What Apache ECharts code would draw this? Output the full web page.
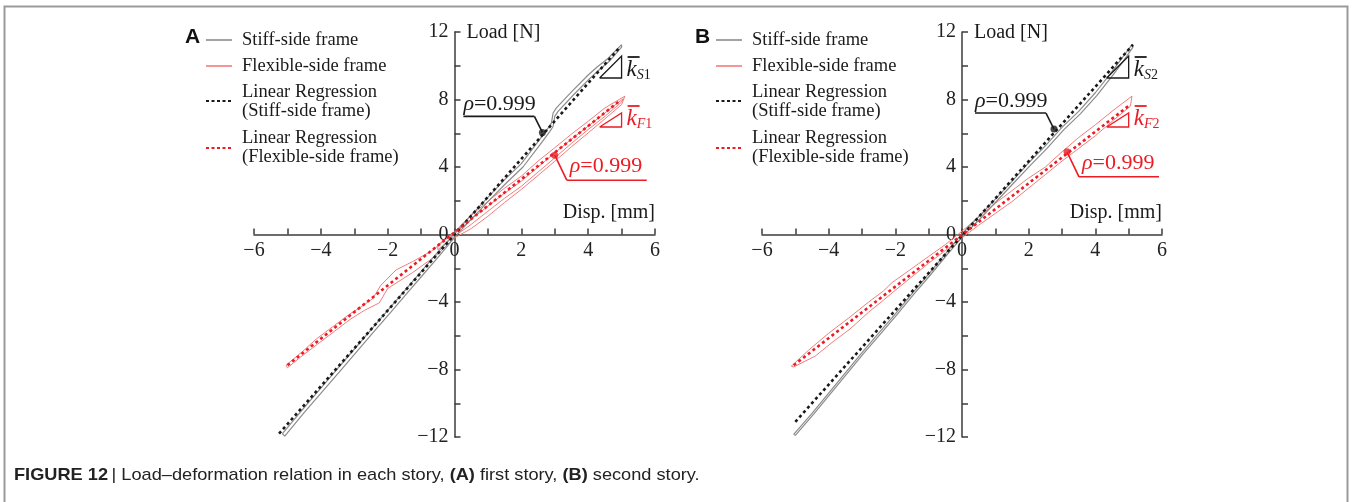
<!DOCTYPE html>
<html><head><meta charset="utf-8">
<script src="https://cdn.jsdelivr.net/npm/echarts@6/dist/echarts.min.js"></script>
<style>html,body{margin:0;padding:0;background:#fff}#c{width:1352px;height:502px}</style>
</head><body><div id="c"></div>
<script>
// ---------- DATA ----------
const xTicks = [-6, -4, -2, 0, 2, 4, 6];
const yTicks = [-12, -8, -4, 0, 4, 8, 12];
const legendNames = ['Stiff-side frame', 'Flexible-side frame', 'Linear Regression\n(Stiff-side frame)', 'Linear Regression\n(Flexible-side frame)'];
const panelLetters = ['A', 'B'];
const rhoText = '0.999';

// Panel A (first story)
const stiffA_up = [[-5.15,-11.8],[-4.6,-10.5],[-4.0,-9.1],[-3.5,-7.95],[-3.0,-6.8],[-2.5,-5.65],[-2.0,-4.5],[-1.5,-3.35],[-1.0,-2.2],[-0.5,-1.05],[0,0.05],[0.5,1.15],[1.0,2.2],[1.5,3.25],[2.0,4.2],[2.5,5.5],[2.8,6.3],[2.9,6.6],[2.95,7.2],[3.05,7.5],[3.5,8.45],[4.0,9.45],[4.25,9.9],[4.6,10.45],[5.0,11.25]];
const stiffA_lo = [[-5.08,-11.95],[-4.5,-10.55],[-3.95,-9.3],[-3.45,-8.15],[-2.95,-7.0],[-2.45,-5.85],[-1.95,-4.7],[-1.45,-3.55],[-0.95,-2.4],[-0.45,-1.25],[0.05,-0.05],[0.55,1.0],[1.05,2.05],[1.55,3.05],[2.05,4.0],[2.55,5.3],[2.85,6.1],[2.95,6.4],[3.0,7.0],[3.1,7.3],[3.55,8.25],[4.05,9.25],[4.3,9.7],[4.65,10.3],[5.0,11.1]];
const flexA_up = [[-5.04,-7.75],[-4.5,-6.85],[-4.14,-6.2],[-3.6,-5.4],[-3.14,-4.72],[-2.8,-4.3],[-2.45,-3.8],[-2.2,-3.0],[-1.75,-2.1],[-1.25,-1.6],[-0.66,-0.95],[0,0.15],[0.5,1.15],[1.0,1.97],[1.5,2.75],[2.0,3.46],[2.5,4.35],[3.0,5.14],[3.5,5.95],[4.0,6.71],[4.5,7.5],[5.1,8.2]];
const flexA_lo = [[-5.0,-7.9],[-4.6,-7.25],[-4.1,-6.5],[-3.6,-5.75],[-3.14,-5.05],[-2.7,-4.5],[-2.25,-4.05],[-2.0,-3.2],[-1.25,-2.25],[-0.55,-1.25],[0,-0.2],[0.5,0.35],[1.0,1.08],[1.5,1.9],[2.0,2.67],[2.5,3.5],[3.0,4.34],[3.5,5.2],[4.0,6.02],[4.5,6.85],[5.0,7.7]];
const flexA_in_up = [[-0.5,-0.6],[0,0.05],[0.5,0.9],[1.0,1.68],[1.5,2.45],[2.0,3.16],[2.5,4.0],[3.0,4.84],[3.5,5.65],[4.0,6.42],[4.5,7.2],[5.05,8.05]];
const flexA_in_lo = [[-0.5,-0.9],[0,-0.1],[0.5,0.6],[1.0,1.38],[1.5,2.15],[2.0,2.86],[2.5,3.7],[3.0,4.54],[3.5,5.4],[4.0,6.22],[4.5,7.0],[5.0,7.85]];
const regStiffA = [[-5.25,-11.8],[4.95,11.1]];
const regFlexA = [[-5.0,-7.75],[4.9,7.85]];
const rhoPointA = [[2.63,6.05],[3.0,4.7]];

// Panel B (second story)
const stiffB_up = [[-5.05,-11.85],[-4.5,-10.6],[-4.0,-9.4],[-3.5,-8.2],[-3.0,-7.0],[-2.5,-5.85],[-2.0,-4.7],[-1.5,-3.5],[-1.0,-2.35],[-0.5,-1.15],[0,0.05],[0.5,1.05],[1.0,2.1],[1.5,3.15],[2.0,4.25],[2.5,5.25],[3.0,6.35],[3.5,7.3],[4.0,8.4],[4.5,9.65],[4.8,10.45],[5.1,11.25]];
const stiffB_lo = [[-5.0,-11.9],[-4.45,-10.65],[-3.95,-9.45],[-3.45,-8.25],[-2.95,-7.05],[-2.45,-5.9],[-1.95,-4.75],[-1.45,-3.55],[-0.95,-2.4],[-0.45,-1.2],[0.05,-0.05],[0.55,0.95],[1.05,2.0],[1.55,3.05],[2.05,4.1],[2.55,5.1],[3.05,6.2],[3.55,7.15],[4.05,8.25],[4.55,9.5],[4.85,10.3],[5.13,11.1]];
const flexB_up = [[-5.12,-7.8],[-4.6,-6.85],[-4.0,-5.85],[-3.4,-4.95],[-2.8,-4.0],[-2.36,-3.35],[-2.1,-2.85],[-1.6,-2.15],[-1.0,-1.3],[-0.5,-0.6],[0,0.2],[0.5,1.05],[1.0,1.85],[1.5,2.6],[2.0,3.35],[2.5,4.0],[3.0,4.9],[3.5,5.75],[4.0,6.5],[4.5,7.3],[5.1,8.2]];
const flexB_lo = [[-5.05,-7.85],[-4.4,-7.2],[-3.9,-6.4],[-3.36,-5.6],[-2.8,-4.6],[-2.36,-3.9],[-2.0,-3.3],[-1.5,-2.5],[-1.0,-1.7],[-0.5,-0.95],[0,-0.2],[0.5,0.55],[1.0,1.25],[1.5,1.95],[2.0,2.75],[2.5,3.55],[3.0,4.35],[3.5,5.1],[4.0,5.85],[4.5,6.7],[5.05,7.6]];
const regStiffB = [[-5.0,-11.1],[5.13,11.25]];
const regFlexB = [[-5.05,-7.75],[5.05,7.7]];
const rhoPointB = [[2.76,6.25],[3.15,4.9]];

// ---------- STYLE ----------
const SERIF = '"Liberation Serif","DejaVu Serif",serif';
const SANS = '"Liberation Sans","DejaVu Sans",sans-serif';
const GRAY = '#8c8c8c', PINK = '#f27c7c', RED = '#ec1c24', BLACK = '#1a1a1a', AX = '#3c3c3c';
const minus = v => (v < 0 ? '\u2212' + Math.abs(v) : String(v));
const GRIDS = [
  {left: 254, top: 32, width: 401, height: 405},
  {left: 762, top: 32, width: 400, height: 405}
];

const chart = echarts.init(document.getElementById('c'), null, {renderer: 'canvas'});

function loop(up, lo) { return up.concat(lo.slice().reverse()).concat([up[0]]); }

function axes(gi) {
  const gr = GRIDS[gi];
  const common = {
    gridIndex: gi, type: 'value',
    axisLine: {onZero: false, lineStyle: {color: AX, width: 1.5}},
    axisTick: {inside: true, length: 6, lineStyle: {color: AX, width: 1.5}},
    minorTick: {show: true, splitNumber: 2, length: 6, lineStyle: {color: AX, width: 1.5}},
    axisLabel: {formatter: minus, fontFamily: SERIF, fontSize: 20, color: '#222', margin: 6},
    splitLine: {show: false}
  };
  const x = Object.assign({}, common, {position: 'bottom', offset: -gr.height / 2,
    min: xTicks[0], max: xTicks[xTicks.length - 1], interval: 2});
  const y = Object.assign({}, common, {position: 'left', offset: -gr.width / 2,
    min: yTicks[0], max: yTicks[yTicks.length - 1], interval: 4});
  return [x, y];
}

function lineS(gi, data, color, width, type, z) {
  return {type: 'line', xAxisIndex: gi, yAxisIndex: gi, data: data, symbol: 'none', silent: true,
    lineStyle: {color: color, width: width, type: type || 'solid', cap: 'butt'}, z: z || 2, animation: false};
}

const [xA, yA] = axes(0), [xB, yB] = axes(1);
chart.setOption({
  animation: false,
  grid: GRIDS,
  xAxis: [xA, xB], yAxis: [yA, yB],
  series: [
    lineS(0, loop(flexA_up, flexA_lo), PINK, 1),
    lineS(0, loop(flexA_in_up, flexA_in_lo), PINK, 1),
    lineS(0, loop(stiffA_up, stiffA_lo), GRAY, 1.2),
    lineS(0, regStiffA, BLACK, 2.6, [3, 3], 3),
    lineS(0, regFlexA, RED, 2.6, [3, 3], 3),
    {type: 'scatter', xAxisIndex: 0, yAxisIndex: 0, data: [rhoPointA[0]], symbolSize: 7, itemStyle: {color: BLACK}, z: 5, silent: true},
    {type: 'scatter', xAxisIndex: 0, yAxisIndex: 0, data: [rhoPointA[1]], symbolSize: 7, itemStyle: {color: RED}, z: 5, silent: true},

    lineS(1, loop(flexB_up, flexB_lo), PINK, 1),
    lineS(1, loop(stiffB_up, stiffB_lo), GRAY, 1.2),
    lineS(1, regStiffB, BLACK, 2.6, [3, 3], 3),
    lineS(1, regFlexB, RED, 2.6, [3, 3], 3),
    {type: 'scatter', xAxisIndex: 1, yAxisIndex: 1, data: [rhoPointB[0]], symbolSize: 7, itemStyle: {color: BLACK}, z: 5, silent: true},
    {type: 'scatter', xAxisIndex: 1, yAxisIndex: 1, data: [rhoPointB[1]], symbolSize: 7, itemStyle: {color: RED}, z: 5, silent: true}
  ]
});

// ---------- ANNOTATIONS ----------
const g = [];
g.push({type: 'rect', shape: {x: 4.5, y: 6.5, width: 1343, height: 520}, style: {fill: 'none', stroke: '#9a9a9a', lineWidth: 2}, z: 0});

function txt(x, y, text, opt) {
  g.push({type: 'text', x: x, y: y, z: 20, style: Object.assign({text: text, fill: '#1a1a1a', font: '18.5px ' + SERIF, textVerticalAlign: 'middle'}, opt || {})});
}
function ln(x1, y1, x2, y2, color, w, dash) {
  g.push({type: 'line', z: 20, shape: {x1: x1, y1: y1, x2: x2, y2: y2}, style: {stroke: color, lineWidth: w, lineDash: dash || null}});
}

function legend(x0, letter) {
  txt(x0, 37, letter, {font: 'bold 21px ' + SANS, fill: '#111'});
  ln(x0 + 21, 40, x0 + 47, 40, GRAY, 1.6);
  txt(x0 + 57, 40, legendNames[0]);
  ln(x0 + 21, 66, x0 + 47, 66, PINK, 1.6);
  txt(x0 + 57, 66, legendNames[1]);
  ln(x0 + 21, 101, x0 + 47, 101, BLACK, 2, [3, 2.5]);
  txt(x0 + 57, 102, legendNames[2], {lineHeight: 19});
  ln(x0 + 21, 148, x0 + 47, 148, RED, 2, [3, 2.5]);
  txt(x0 + 57, 148, legendNames[3], {lineHeight: 19});
}
legend(185, panelLetters[0]);
legend(695, panelLetters[1]);

function axisNames(gi) {
  const o = chart.convertToPixel({gridIndex: gi}, [0, 12]);
  const r = chart.convertToPixel({gridIndex: gi}, [6, 0]);
  txt(o[0] + 12, o[1] + 1, 'Load [N]', {font: '20px ' + SERIF});
  txt(r[0], r[1] - 22, 'Disp. [mm]', {textAlign: 'right', font: '20px ' + SERIF});
}
axisNames(0); axisNames(1);

function rho(x, y, color) {
  g.push({type: 'text', x: x, y: y, z: 20, style: {
    text: '{g|\u03c1}{n|=' + rhoText + '}', textVerticalAlign: 'middle', fill: color,
    rich: {g: {fontFamily: SERIF, fontStyle: 'italic', fontSize: 22, fill: color}, n: {fontFamily: SERIF, fontSize: 22, fill: color}}
  }});
}

function annotate(gi, pts, sub1, sub2) {
  const pb = chart.convertToPixel({gridIndex: gi}, pts[0]);
  const pr = chart.convertToPixel({gridIndex: gi}, pts[1]);
  const kb = [pb[0] - 8, pb[1] - 16];
  ln(kb[0], kb[1], pb[0], pb[1], BLACK, 1.6);
  ln(kb[0] - 71, kb[1], kb[0], kb[1], BLACK, 1.6);
  rho(kb[0] - 71, kb[1] - 12, BLACK);
  const kr = [pr[0] + 12, pr[1] + 25];
  ln(pr[0], pr[1], kr[0], kr[1], RED, 1.6);
  ln(kr[0], kr[1], kr[0] + 80, kr[1], RED, 1.6);
  rho(kr[0] + 3, kr[1] - 14, RED);
  const t = chart.convertToPixel({gridIndex: gi}, [5, 0]);
  const tx = t[0] - 22;
  g.push({type: 'polyline', z: 20, shape: {points: [[tx, 78], [tx + 22, 78], [tx + 22, 56], [tx, 78]]}, style: {stroke: BLACK, lineWidth: 1.3, fill: 'none'}});
  g.push({type: 'polyline', z: 20, shape: {points: [[tx, 127], [tx + 22, 127], [tx + 22, 113], [tx, 127]]}, style: {stroke: RED, lineWidth: 1.3, fill: 'none'}});
  kLabel(tx + 27, 70, sub1, BLACK);
  kLabel(tx + 27, 119, sub2, RED);
}
function kLabel(x, y, sub, color) {
  g.push({type: 'text', x: x, y: y, z: 20, style: {
    text: '{k|k}{s|' + sub[0] + '}{d|' + sub.slice(1) + '}', fill: color, textVerticalAlign: 'middle',
    rich: {
      k: {fontFamily: SERIF, fontStyle: 'italic', fontSize: 23, fill: color, verticalAlign: 'top'},
      s: {fontFamily: SERIF, fontStyle: 'italic', fontSize: 14, fill: color, padding: [10, 0, 0, 0]},
      d: {fontFamily: SERIF, fontSize: 14, fill: color, padding: [10, 0, 0, 0]}
    }
  }});
  ln(x + 1, y - 13, x + 13, y - 13, color, 1.8);
}
annotate(0, rhoPointA, 'S1', 'F1');
annotate(1, rhoPointB, 'S2', 'F2');

// caption
g.push({type: 'text', x: 14, y: 475, scaleX: 1.07, z: 20, style: {
  text: '{b|FIGURE 12} {r|| Load\u2013deformation relation in each story, }{b|(A)}{r| first story, }{b|(B)}{r| second story.}',
  textVerticalAlign: 'middle', fill: '#222',
  rich: {b: {fontFamily: SANS, fontWeight: 'bold', fontSize: 17, fill: '#222'}, r: {fontFamily: SANS, fontSize: 17, fill: '#222'}}
}});

chart.setOption({graphic: {elements: g}});
</script>
</body></html>
